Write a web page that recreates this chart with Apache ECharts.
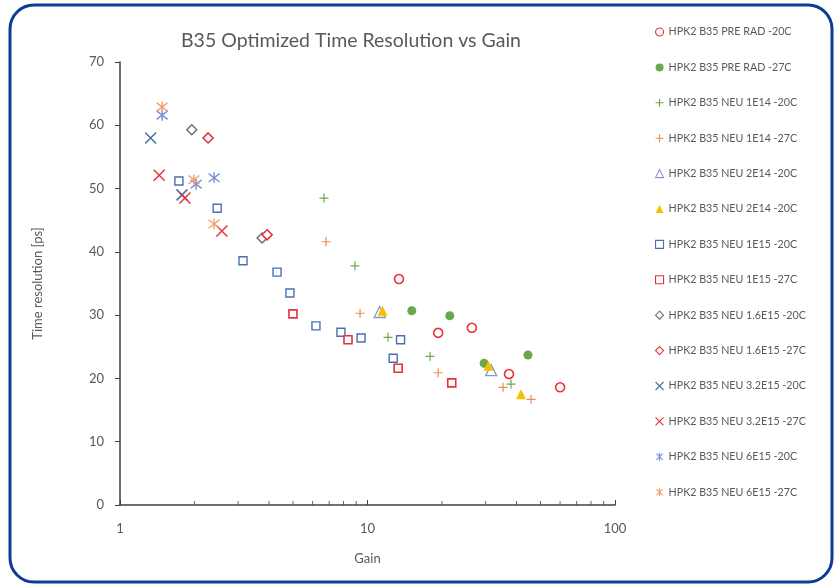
<!DOCTYPE html>
<html>
<head>
<meta charset="utf-8">
<script src="https://cdn.jsdelivr.net/npm/echarts@6/dist/echarts.min.js"></script>
<style>
html,body{margin:0;padding:0;background:#fff;}
#chart{width:837px;height:586px;}
</style>
</head>
<body>
<div id="chart"></div>
<script>
// ---- Data (Gain, Time resolution [ps]) ----
const seriesNames = [
  'HPK2 B35 PRE RAD -20C',
  'HPK2 B35 PRE RAD -27C',
  'HPK2 B35 NEU 1E14 -20C',
  'HPK2 B35 NEU 1E14 -27C',
  'HPK2 B35 NEU 2E14 -20C',
  'HPK2 B35 NEU 2E14 -20C ',
  'HPK2 B35 NEU 1E15 -20C',
  'HPK2 B35 NEU 1E15 -27C',
  'HPK2 B35 NEU 1.6E15 -20C',
  'HPK2 B35 NEU 1.6E15 -27C',
  'HPK2 B35 NEU 3.2E15 -20C',
  'HPK2 B35 NEU 3.2E15 -27C',
  'HPK2 B35 NEU 6E15 -20C',
  'HPK2 B35 NEU 6E15 -27C'
];

const preRad20Gain = [13.4, 19.3, 26.4, 37.3, 60.0];
const preRad20Res  = [35.7, 27.2, 28.0, 20.7, 18.6];

const preRad27Gain = [15.1, 21.5, 29.6, 44.5];
const preRad27Res  = [30.7, 29.9, 22.4, 23.7];

const neu1e14m20Gain = [6.67, 8.9, 12.1, 17.9, 38.0];
const neu1e14m20Res  = [48.5, 37.8, 26.5, 23.5, 19.1];

const neu1e14m27Gain = [6.8, 9.33, 19.3, 35.3, 45.8];
const neu1e14m27Res  = [41.6, 30.3, 20.9, 18.6, 16.7];

const neu2e14aGain = [11.2, 31.6];
const neu2e14aRes  = [30.5, 21.3];

const neu2e14bGain = [11.5, 30.8, 41.7];
const neu2e14bRes  = [30.7, 22.0, 17.5];

const neu1e15m20Gain = [1.73, 2.47, 3.14, 4.31, 4.86, 6.19, 7.81, 9.42, 12.7, 13.6];
const neu1e15m20Res  = [51.2, 46.9, 38.6, 36.8, 33.5, 28.3, 27.3, 26.4, 23.2, 26.1];

const neu1e15m27Gain = [5.0, 8.34, 13.3, 21.9];
const neu1e15m27Res  = [30.2, 26.1, 21.6, 19.3];

const neu16e15m20Gain = [1.95, 3.75];
const neu16e15m20Res  = [59.3, 42.2];

const neu16e15m27Gain = [2.27, 3.93];
const neu16e15m27Res  = [58.0, 42.7];

const neu32e15m20Gain = [1.33, 1.78];
const neu32e15m20Res  = [58.0, 49.0];

const neu32e15m27Gain = [1.44, 1.83, 2.58];
const neu32e15m27Res  = [52.1, 48.5, 43.3];

const neu6e15m20Gain = [1.48, 2.03, 2.40];
const neu6e15m20Res  = [61.6, 50.7, 51.7];

const neu6e15m27Gain = [1.48, 1.99, 2.40];
const neu6e15m27Res  = [62.9, 51.4, 44.4];

const xMinorTicks = [2, 3, 4, 5, 6, 7, 8, 9, 20, 30, 40, 50, 60, 70, 80, 90];
const yTicks = [0, 10, 20, 30, 40, 50, 60, 70];

// ---- Styles ----
const PLUS = 'path://M5,0L5,10M0,5L10,5';
const CROSS = 'path://M0,0L10,10M10,0L0,10';
const STAR = 'path://M0,0L10,10M10,0L0,10M5,-1.5L5,11.5';

const gains = [preRad20Gain, preRad27Gain, neu1e14m20Gain, neu1e14m27Gain, neu2e14aGain, neu2e14bGain,
  neu1e15m20Gain, neu1e15m27Gain, neu16e15m20Gain, neu16e15m27Gain, neu32e15m20Gain, neu32e15m27Gain,
  neu6e15m20Gain, neu6e15m27Gain];
const ress = [preRad20Res, preRad27Res, neu1e14m20Res, neu1e14m27Res, neu2e14aRes, neu2e14bRes,
  neu1e15m20Res, neu1e15m27Res, neu16e15m20Res, neu16e15m27Res, neu32e15m20Res, neu32e15m27Res,
  neu6e15m20Res, neu6e15m27Res];

const styles = [
  {symbol:'circle', size:9, fill:'#fff', stroke:'#e8303a', bw:1.6},
  {symbol:'circle', size:9, fill:'#6aa84f', stroke:'#6aa84f', bw:0},
  {symbol:PLUS, size:9, fill:'transparent', stroke:'#70a54c', bw:1.2},
  {symbol:PLUS, size:9, fill:'transparent', stroke:'#ed8b4c', bw:1.2},
  {symbol:'triangle', size:11, fill:'#fff', stroke:'#7f9cc9', bw:1.3},
  {symbol:'triangle', size:10, fill:'#f5c000', stroke:'#f5c000', bw:0},
  {symbol:'rect', size:8, fill:'#fff', stroke:'#4a6fb8', bw:1.4},
  {symbol:'rect', size:8, fill:'#fff', stroke:'#e8303a', bw:1.6},
  {symbol:'diamond', size:10, fill:'#fff', stroke:'#6b6b6b', bw:1.4},
  {symbol:'diamond', size:10, fill:'#fff', stroke:'#e8303a', bw:1.6},
  {symbol:CROSS, size:11, fill:'transparent', stroke:'#4b6f9f', bw:1.5},
  {symbol:CROSS, size:11, fill:'transparent', stroke:'#e8303a', bw:1.5},
  {symbol:STAR, size:11, fill:'transparent', stroke:'#7a90da', bw:1.4},
  {symbol:STAR, size:11, fill:'transparent', stroke:'#eba06c', bw:1.4}
];

const series = seriesNames.map((name, i) => ({
  name: name,
  type: 'scatter',
  symbol: styles[i].symbol,
  symbolSize: styles[i].size,
  itemStyle: {color: styles[i].fill, borderColor: styles[i].stroke, borderWidth: styles[i].bw, opacity: 1},
  data: gains[i].map((g, k) => [g, ress[i][k]]),
  z: 3
}));

// minor ticks on the log x axis (drawn through the axis scale)
series.push({
  name: 'minorTicks',
  type: 'scatter',
  silent: true,
  symbol: 'rect',
  symbolSize: [1, 4],
  symbolOffset: [0, -2],
  itemStyle: {color: '#404040'},
  data: xMinorTicks.map(v => [v, 0]),
  clip: false,
  z: 4
});

const legendData = seriesNames.map((n, i) => ({
  name: n,
  itemStyle: {borderWidth: Math.min(styles[i].bw, 1.1)}
}));

const chart = echarts.init(document.getElementById('chart'), null, {renderer: 'canvas'});
chart.setOption({
  backgroundColor: '#ffffff',
  animation: false,
  graphic: [{
    type: 'rect',
    z: -10,
    shape: {x: 10, y: 5, width: 822, height: 577, r: 24},
    style: {fill: '#ffffff', stroke: '#0d3c96', lineWidth: 3}
  }],
  title: {
    text: 'B35 Optimized Time Resolution vs Gain',
    left: 176, top: 26,
    textStyle: {fontFamily: 'Lato, sans-serif', fontSize: 19.5, fontWeight: 'normal', color: '#595959'}
  },
  legend: {
    orient: 'vertical',
    left: 650, top: 20,
    itemWidth: 8, itemHeight: 8,
    itemGap: 21.4,
    data: legendData,
    formatter: n => n.trim(),
    textStyle: {fontFamily: 'Lato, sans-serif', fontSize: 10.7, color: '#595959', lineHeight: 14}
  },
  grid: {left: 120, right: 222, top: 62, bottom: 81, containLabel: false},
  xAxis: {
    type: 'log', logBase: 10, min: 1, max: 100,
    name: 'Gain', nameLocation: 'middle', nameGap: 47,
    nameTextStyle: {fontFamily: 'Lato, sans-serif', fontSize: 13, color: '#595959'},
    axisLine: {show: true, lineStyle: {color: '#404040', width: 1.5}},
    axisTick: {show: true, inside: true, length: 5, lineStyle: {color: '#404040'}},
    axisLabel: {fontFamily: 'Lato, sans-serif', fontSize: 13, color: '#595959', margin: 17},
    splitLine: {show: false}
  },
  yAxis: {
    type: 'value', min: 0, max: 70, interval: 10,
    name: 'Time resolution [ps]', nameLocation: 'middle', nameGap: 76, nameRotate: 90,
    nameTextStyle: {fontFamily: 'Lato, sans-serif', fontSize: 13, color: '#595959'},
    axisLine: {show: true, lineStyle: {color: '#404040', width: 1.5}},
    axisTick: {show: true, inside: false, length: 5, lineStyle: {color: '#404040'}},
    axisLabel: {fontFamily: 'Lato, sans-serif', fontSize: 13, color: '#595959', margin: 16,
      formatter: v => yTicks.includes(v) ? String(v) : ''},
    splitLine: {show: false}
  },
  series: series
});
</script>
</body>
</html>
